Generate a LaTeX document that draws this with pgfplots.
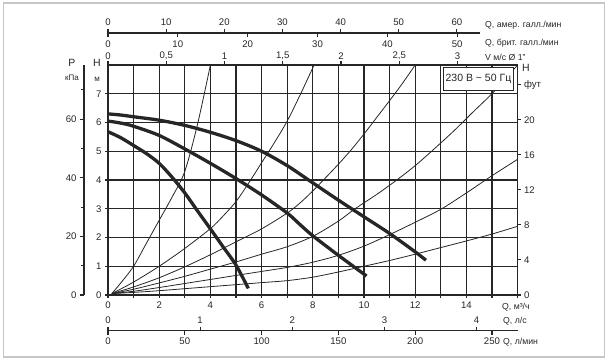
\documentclass[border=0pt]{standalone}
\usepackage{pgfplots}
\pgfplotsset{compat=1.18}
\usepackage{fontspec}
\setmainfont{Liberation Sans}
\definecolor{ink}{HTML}{262626}
\pgfplotsset{
  base/.style={scale only axis, anchor=south west,
    /pgf/number format/assume math mode=true,
    tick label style={font=\fontsize{9.6}{11}\selectfont, text=ink},
    axis line style={line width=1.2pt, ink},
    every tick/.style={line width=1.1pt, ink},
    tick align=outside,
  },
  thinc/.style={line width=0.8pt, ink, smooth, no marks},
  thickc/.style={line width=3.3pt, ink, smooth, no marks},
}
\begin{document}
\begin{tikzpicture}[x=1pt,y=1pt]
\useasboundingbox (0,0) rectangle (608,361);
\draw[black!22, line width=1.5pt] (3.5,4) rectangle (604.5,358);

% kPa axis
\begin{axis}[base, at={(84pt,66pt)}, width=10pt, height=230pt,
  xmin=0, xmax=1, ymin=0, ymax=78.48,
  axis x line=none, axis y line*=left,
  ytick={0,20,40,60}, minor ytick={10,30,50,70},
  major tick length=4pt, minor tick length=3pt]
\end{axis}

% feet axis
\begin{axis}[base, at={(108pt,66pt)}, width=409.6pt, height=230pt,
  xmin=0, xmax=16, ymin=0, ymax=26.2467,
  axis x line=none, axis y line*=right,
  ytick={0,4,8,12,16,20,24}, yticklabels={0,4,8,12,16,20,фут},
  major tick length=3pt]
\end{axis}

% velocity scale on top of main plot
\begin{axis}[base, at={(108pt,66pt)}, width=409.6pt, height=230pt,
  xmin=0, xmax=16, ymin=0, ymax=8,
  axis y line=none, axis x line*=top,
  xtick={0,2.275,4.55,6.825,9.1,11.375,13.65},
  xticklabels={0,{0,5},1,{1,5},2,{2,5},3},
  major tick length=4pt, xticklabel style={inner sep=1pt}]
\end{axis}

% main axis
\begin{axis}[base, at={(108pt,66pt)}, width=409.6pt, height=230pt,
  xmin=0, xmax=16, ymin=0, ymax=8,
  xtick={0,...,16}, xticklabels={0,,2,,4,,6,,8,,10,,12,,14,,},
  ytick={0,...,7},
  xtick pos=bottom, ytick pos=left,
  grid=major, major grid style={line width=1.2pt, ink},
  major tick length=3pt]
% system curves
\addplot[thinc] coordinates {(0.15,0.05)(0.5,0.42)(1,1.0)(1.5,1.8)(2,2.6)(2.5,3.4)(3,4.3)(3.5,5.95)(4,8.0)};
\addplot[thinc] coordinates {(0.15,0.05)(1,0.45)(2,1.0)(3,1.62)(4,2.31)(4.5,2.75)(5,3.25)(5.5,3.9)(6,4.6)(6.5,5.3)(7,6.05)(7.5,6.95)(8.05,8.0)};
\addplot[thinc] coordinates {(0.15,0.05)(1,0.28)(2,0.6)(3,0.98)(4,1.4)(5,1.85)(6,2.3)(7,2.85)(7.5,3.2)(8,3.62)(8.5,4.08)(9,4.55)(9.5,5.05)(10,5.6)(10.5,6.18)(11,6.76)(11.5,7.36)(12,8.0)};
\addplot[thinc] coordinates {(0.15,0.05)(1,0.2)(2,0.42)(3,0.65)(4,0.9)(5,1.15)(6,1.42)(7,1.68)(8,2.04)(9,2.57)(9.65,3.0)(10.5,3.5)(11.28,4.0)(12,4.5)(12.64,5.0)(13.5,5.7)(14.3,6.4)(15.05,7.05)(16,8.0)};
\addplot[thinc] coordinates {(0.15,0.05)(1,0.13)(2,0.26)(3,0.4)(4,0.54)(5,0.68)(6,0.82)(7,0.96)(8,1.14)(9,1.38)(10,1.7)(11,2.1)(12,2.53)(13,2.98)(14,3.55)(14.5,3.85)(15,4.15)(16,4.72)};
\addplot[thinc] coordinates {(0.15,0.05)(1,0.09)(2,0.15)(3,0.22)(4,0.29)(5,0.36)(6,0.43)(7,0.5)(8,0.62)(9,0.8)(10,1.0)(11,1.2)(12,1.42)(13,1.65)(14,1.88)(15,2.12)(16,2.39)};
% pump curves
\addplot[thickc] coordinates {(0,6.3)(0.5,6.26)(1,6.2)(2,6.08)(3,5.9)(4,5.66)(5,5.37)(6,5.0)(7,4.5)(8,3.9)(9,3.3)(10,2.72)(11,2.14)(12,1.5)(12.42,1.21)};
\addplot[thickc] coordinates {(0,6.05)(0.5,5.98)(1,5.87)(2,5.55)(3,5.08)(4,4.58)(5,4.05)(6,3.48)(7,2.85)(7.5,2.45)(8,2.06)(9,1.38)(10.1,0.66)};
\addplot[thickc] coordinates {(0,5.68)(0.5,5.47)(1,5.2)(1.5,4.92)(2,4.58)(2.5,4.1)(3,3.55)(3.5,2.92)(4,2.3)(4.5,1.67)(5,1.04)(5.48,0.23)};
\node[draw=ink, line width=1pt, fill=white, text=ink, font=\fontsize{10.5}{12}\selectfont,
  inner sep=2pt, minimum width=69pt, minimum height=23pt] at (axis cs:14.47,7.5) {230 В \textasciitilde\ 50 Гц};
\end{axis}

% top gallon scales
\begin{axis}[base, at={(108pt,327pt)}, width=372pt, height=1pt,
  xmin=0, xmax=14.53, ymin=0, ymax=1,
  axis y line=none, axis x line*=top,
  xtick={0,2.2712,4.5425,6.8137,9.0850,11.3562,13.6274},
  xticklabels={0,10,20,30,40,50,60}, major tick length=4pt]
\end{axis}
\begin{axis}[base, at={(108pt,328pt)}, width=372pt, height=1pt,
  xmin=0, xmax=14.53, ymin=0, ymax=1,
  axis y line=none, axis x line*=bottom,
  xtick={0,2.7277,5.4553,8.1830,10.9106,13.6383},
  xticklabels={0,10,20,30,40,50}, major tick length=4pt]
\end{axis}

% bottom l/s and l/min scales
\begin{axis}[base, at={(108pt,29.3pt)}, width=410pt, height=1pt,
  xmin=0, xmax=16.016, ymin=0, ymax=1,
  axis y line=none, axis x line*=top,
  xtick={0,3.6,7.2,10.8,14.4}, xticklabels={0,1,2,3,4}, major tick length=4pt]
\end{axis}
\begin{axis}[base, at={(108pt,30.3pt)}, width=410pt, height=1pt,
  xmin=0, xmax=16.016, ymin=0, ymax=1,
  axis y line=none, axis x line*=bottom,
  xtick={0,3,6,9,12,15}, xticklabels={0,50,100,150,200,250}, major tick length=4pt]
\end{axis}

% labels
\begin{scope}[every node/.style={text=ink, inner sep=0pt}]
\node[font=\fontsize{8.7}{10}\selectfont, anchor=west] at (485,336) {Q, амер. галл./мин};
\node[font=\fontsize{8.7}{10}\selectfont, anchor=west] at (485,318) {Q, брит. галл./мин};
\node[font=\fontsize{8.7}{10}\selectfont, anchor=west] at (485,304) {V м/с Ø 1"};
\node[font=\fontsize{10.5}{11}\selectfont] at (72,298) {P};
\node[font=\fontsize{8}{9}\selectfont] at (72,283) {кПа};
\node[font=\fontsize{10.5}{11}\selectfont] at (97,298) {H};
\node[font=\fontsize{8}{9}\selectfont] at (97,282) {м};
\node[font=\fontsize{10.5}{11}\selectfont] at (526,293) {H};
\node[font=\fontsize{8.7}{10}\selectfont, anchor=west] at (502,54) {Q, м³/ч};
\node[font=\fontsize{8.7}{10}\selectfont, anchor=west] at (503,40) {Q, л/с};
\node[font=\fontsize{8.7}{10}\selectfont, anchor=west] at (503,19) {Q, л/мин};
\end{scope}
\end{tikzpicture}
\end{document}
